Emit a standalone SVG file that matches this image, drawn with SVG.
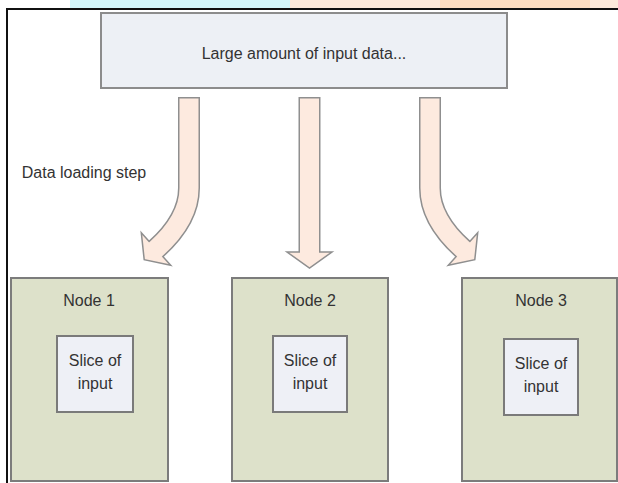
<svg xmlns="http://www.w3.org/2000/svg" width="618" height="483" viewBox="0 0 618 483">
  <style>
    text { font-family: "Liberation Sans", Arial, sans-serif; font-size: 16px; fill: #333333; text-anchor: middle; }
    .frame { stroke: #111111; stroke-width: 2; fill: none; }
    .node { fill: #dde1ca; stroke: #7c7c7c; stroke-width: 2; }
    .slice { fill: #eef0f6; stroke: #7a7a7a; stroke-width: 2; }
    .input { fill: #edf0f5; stroke: #8c8c8c; stroke-width: 2; }
    .shaft-out { fill: none; stroke: #8f8f8f; stroke-width: 22; stroke-linecap: butt; }
    .shaft-in { fill: none; stroke: #fdeadf; stroke-width: 19; stroke-linecap: butt; }
    .head { fill: #fdeadf; stroke: #8f8f8f; stroke-width: 1.5; stroke-linejoin: miter; }
  </style>

  <!-- background strip above the frame -->
  <rect x="0" y="0" width="618" height="483" fill="#ffffff"/>
  <rect x="70" y="0" width="220" height="8" fill="#d3f6fa"/>
  <rect x="290" y="0" width="328" height="8" fill="#fdeadb"/>
  <rect x="440" y="0" width="150" height="8" fill="#fcdcc0"/>

  <!-- frame -->
  <path class="frame" d="M7,483 V9 H618"/>

  <g id="input-data">
    <rect class="input" x="101" y="13" width="406" height="75"/>
    <text x="304" y="59">Large amount of input data...</text>
  </g>

  <g id="label-loading">
    <text x="84" y="178">Data loading step</text>
  </g>

  <g id="connectors">
    <g id="arrow-1">
      <path class="shaft-out" d="M189,97 V188 C189,212 175,232 156,249"/>
      <polygon class="head" points="141.3,232.7 170.7,265.3 144.2,259.7"/>
      <path class="shaft-in" d="M189,98.5 V188 C189,212 175,232 156,249 L154.3,250.6"/>
    </g>
    <g id="arrow-2">
      <path class="shaft-out" d="M309.5,97 V252"/>
      <polygon class="head" points="287,252 332,252 309.5,268"/>
      <path class="shaft-in" d="M309.5,98.5 V254"/>
    </g>
    <g id="arrow-3">
      <path class="shaft-out" d="M430,97 V188 C430,212 444,232 463,249"/>
      <polygon class="head" points="477.7,232.7 448.3,265.3 474.8,259.7"/>
      <path class="shaft-in" d="M430,98.5 V188 C430,212 444,232 463,249 L464.7,250.6"/>
    </g>
  </g>

  <g id="node1">
    <rect class="node" x="11" y="278" width="157" height="203"/>
    <text x="89" y="306">Node 1</text>
    <rect class="slice" x="57" y="336" width="76" height="76"/>
    <text x="95" y="366">Slice of</text>
    <text x="95" y="389">input</text>
  </g>

  <g id="node2">
    <rect class="node" x="232" y="278" width="156" height="203"/>
    <text x="310" y="306">Node 2</text>
    <rect class="slice" x="273" y="336" width="74" height="76"/>
    <text x="310" y="366">Slice of</text>
    <text x="310" y="389">input</text>
  </g>

  <g id="node3">
    <rect class="node" x="462" y="278" width="155" height="203"/>
    <text x="541" y="306">Node 3</text>
    <rect class="slice" x="504" y="339" width="74" height="76"/>
    <text x="541" y="369">Slice of</text>
    <text x="541" y="392">input</text>
  </g>
</svg>
